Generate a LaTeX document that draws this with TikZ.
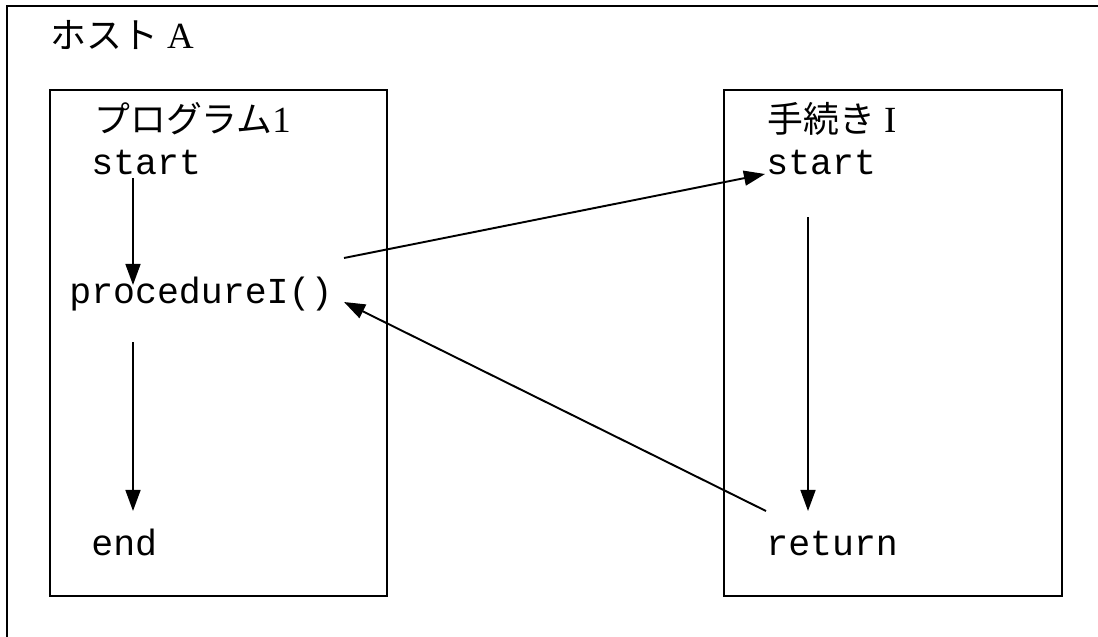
\documentclass[tikz,border=0pt]{standalone}
\usepackage{fontspec}
\setmainfont{Liberation Serif}
\setmonofont{Liberation Mono}
\newfontfamily\jpfont{Noto Sans CJK JP}
\newcommand{\jptext}[1]{{\jpfont\fontsize{20.4}{24}\selectfont #1}}
\usetikzlibrary{arrows.meta,positioning}

\begin{document}
\begin{tikzpicture}[
    x=0.02cm, y=-0.02cm,
    host/.style={draw, line width=1.2pt, rectangle, minimum width=23cm, minimum height=13.5cm, anchor=north west, inner sep=0pt},
    proc/.style={draw, line width=1pt, rectangle, minimum height=10.12cm, anchor=north west, inner sep=0pt},
    title/.style={anchor=base west, inner sep=0pt, font=\fontsize{21}{24}\selectfont},
    code/.style={anchor=base west, inner sep=0pt, font=\ttfamily\fontsize{20.8}{24}\selectfont},
    arrow/.style={-{Triangle[length=12pt, width=8.5pt]}, line width=1.1pt}
]
    \useasboundingbox (0,0) rectangle (1098,636);
    \clip (0,0) rectangle (1098,636);

    % Host frame
    \node[host] (hostA) at (6,5) {};
    \node[title] (hostlbl) at (50,48) {\jptext{ホスト} A};

    % Program box
    \node[proc, minimum width=6.74cm] (prog) at (49,89) {};
    \node[title] (proglbl) at (94,132) {\jptext{プログラム}1};
    \node[code] (s1) at (91,174) {start};
    \node[code] (p1) at (69,303) {procedureI()};
    \node[code] (e1) at (91,555) {end};

    % Procedure box
    \node[proc, minimum width=6.76cm] (procI) at (723,89) {};
    \node[title] (proclbl) at (767,132) {\jptext{手続き} I};
    \node[code] (s2) at (766,174) {start};
    \node[code] (r2) at (766,555) {return};

    % Control flow
    \draw[arrow] ([shift={(42,4)}]s1.base west) -- ([shift={(64,-18)}]p1.base west);
    \draw[arrow] ([shift={(64,39)}]p1.base west) -- ([shift={(42,-44)}]e1.base west);
    \draw[arrow] ([shift={(275,-45)}]p1.base west) -- ([shift={(-1,0)}]s2.base west);
    \draw[arrow] ([shift={(42,43)}]s2.base west) -- ([shift={(42,-44)}]r2.base west);
    \draw[arrow] ([shift={(0,-44)}]r2.base west) -- ([shift={(275,-1)}]p1.base west);
\end{tikzpicture}
\end{document}
